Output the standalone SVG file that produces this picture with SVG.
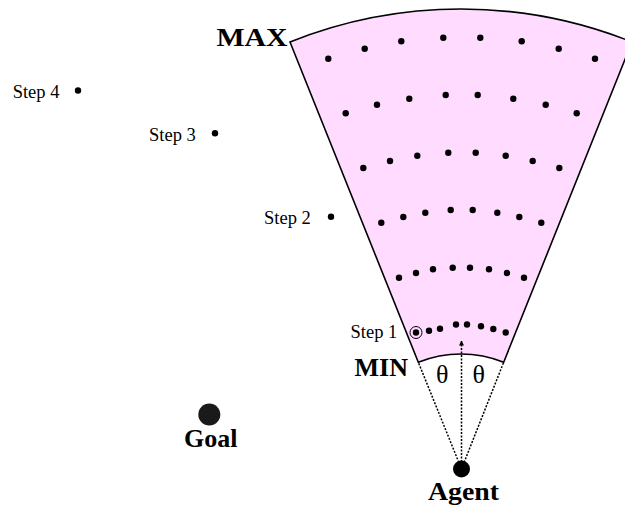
<svg xmlns="http://www.w3.org/2000/svg" width="625" height="506" viewBox="0 0 625 506">
<style>
.lbl{font-family:"Liberation Serif","Times New Roman",serif;font-size:18.5px;fill:#000}
.big{font-family:"Liberation Serif","Times New Roman",serif;font-size:26px;font-weight:bold;fill:#000}
.th{font-family:"Liberation Serif","Times New Roman",serif;font-size:26px;fill:#000}
.dot{fill:#000}
.dl{stroke:#000;stroke-width:1.5;stroke-dasharray:2 1.5;fill:none}
</style>
<defs>
<marker id="ah" viewBox="0 0 10 10" refX="9" refY="5" markerWidth="5" markerHeight="7" orient="auto" markerUnits="userSpaceOnUse"><path d="M0,0 L10,5 L0,10 Z" fill="#000"/></marker>
</defs>
<rect width="625" height="506" fill="#fff"/>
<g id="fan">
<path d="M418.3,362.2 L290,42 A460,460 0 0 1 632,42 L503.7,362.2 A115,115 0 0 0 418.3,362.2 Z" fill="#ffdcff" stroke="#000" stroke-width="1.6"/>
</g>
<g id="samples" class="dot">
<circle cx="429" cy="330.7" r="3.2"/><circle cx="440" cy="328.7" r="3.2"/><circle cx="456" cy="324.5" r="3.2"/><circle cx="467" cy="324.5" r="3.2"/><circle cx="481" cy="326.3" r="3.2"/><circle cx="493.3" cy="329" r="3.2"/><circle cx="505.7" cy="332.5" r="3.2"/>
<circle cx="399" cy="277.7" r="3.2"/><circle cx="416" cy="273" r="3.2"/><circle cx="433" cy="269.3" r="3.2"/><circle cx="452.7" cy="267.7" r="3.2"/><circle cx="470" cy="267.7" r="3.2"/><circle cx="489" cy="269.3" r="3.2"/><circle cx="507" cy="273" r="3.2"/><circle cx="524" cy="277.7" r="3.2"/>
<circle cx="381.3" cy="222.7" r="3.2"/><circle cx="403.3" cy="217" r="3.2"/><circle cx="425.3" cy="212.7" r="3.2"/><circle cx="450.7" cy="210" r="3.2"/><circle cx="472.7" cy="210" r="3.2"/><circle cx="497.3" cy="212.7" r="3.2"/><circle cx="519.3" cy="217" r="3.2"/><circle cx="541.3" cy="222.7" r="3.2"/>
<circle cx="363.3" cy="168" r="3.2"/><circle cx="390" cy="161" r="3.2"/><circle cx="417.3" cy="155.7" r="3.2"/><circle cx="448.3" cy="152.7" r="3.2"/><circle cx="475.7" cy="152.7" r="3.2"/><circle cx="505.7" cy="155.7" r="3.2"/><circle cx="532.7" cy="161" r="3.2"/><circle cx="559.3" cy="168" r="3.2"/>
<circle cx="345.7" cy="113.3" r="3.2"/><circle cx="377" cy="104.7" r="3.2"/><circle cx="409.3" cy="98.7" r="3.2"/><circle cx="445.7" cy="95" r="3.2"/><circle cx="477.7" cy="95" r="3.2"/><circle cx="513.3" cy="98.7" r="3.2"/><circle cx="545.7" cy="104.7" r="3.2"/><circle cx="576.7" cy="113.3" r="3.2"/>
<circle cx="328.3" cy="58.7" r="3.2"/><circle cx="364.7" cy="48.7" r="3.2"/><circle cx="401.3" cy="41.3" r="3.2"/><circle cx="443.3" cy="37.7" r="3.2"/><circle cx="480.3" cy="37.7" r="3.2"/><circle cx="521.7" cy="41.3" r="3.2"/><circle cx="558.7" cy="48.7" r="3.2"/><circle cx="595" cy="58.7" r="3.2"/>
</g>
<g id="step1">
<circle cx="416" cy="332.5" r="3.2" class="dot"/>
<circle cx="416" cy="332.5" r="6" fill="none" stroke="#000" stroke-width="1"/>
<text class="lbl" x="350.5" y="337.5">Step 1</text>
</g>
<g id="step2"><circle cx="331" cy="216.7" r="3.2" class="dot"/><text class="lbl" x="264" y="224">Step 2</text></g>
<g id="step3"><circle cx="215" cy="133.3" r="3.2" class="dot"/><text class="lbl" x="149" y="141">Step 3</text></g>
<g id="step4"><circle cx="78" cy="90.5" r="3.2" class="dot"/><text class="lbl" x="12.7" y="97.5">Step 4</text></g>
<g id="goal"><circle cx="209.3" cy="414.5" r="11" fill="#1a1a1a"/><text class="big" x="184" y="447">Goal</text></g>
<g id="agent"><circle cx="461.5" cy="469" r="8.5" fill="#000"/><text class="big" x="428" y="499.5" textLength="71" lengthAdjust="spacingAndGlyphs">Agent</text></g>
<g id="labels">
<text class="big" x="216.5" y="46" textLength="71" lengthAdjust="spacingAndGlyphs">MAX</text>
<text class="big" x="354.5" y="376">MIN</text>
<text class="th" x="436" y="383">θ</text>
<text class="th" x="472.5" y="383">θ</text>
</g>
<g id="connectors">
<line class="dl" x1="461.5" y1="469" x2="418.3" y2="362.2"/>
<line class="dl" x1="461.5" y1="469" x2="503.7" y2="362.2"/>
<line class="dl" x1="461.5" y1="469" x2="461.5" y2="341" marker-end="url(#ah)"/>
</g>
</svg>
